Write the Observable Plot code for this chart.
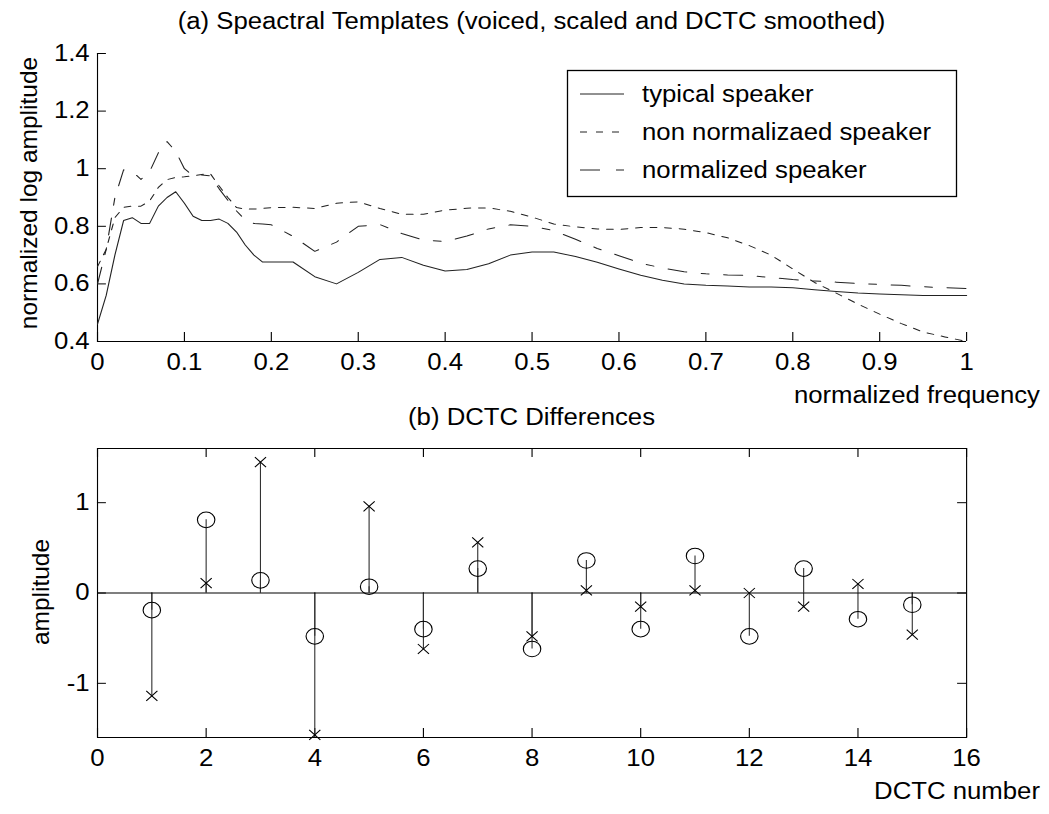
<!DOCTYPE html>
<html>
<head>
<meta charset="utf-8">
<script src="https://cdn.jsdelivr.net/npm/d3@7"></script>
<script src="https://cdn.jsdelivr.net/npm/@observablehq/plot@0.6"></script>
<style>
  html, body { margin: 0; padding: 0; background: #fff; }
  #wrap { position: relative; width: 1049px; height: 814px; background: #fff; overflow: hidden; }
  #wrap > svg { position: absolute; left: 0; }
  #overlay { position: absolute; left: 0; top: 0; pointer-events: none; }
</style>
</head>
<body>
<div id="wrap"></div>
<script>
// ---------- Data (panel a: spectral templates) ----------
const freq = [0, 0.01, 0.02, 0.03, 0.04, 0.05, 0.06, 0.07, 0.08, 0.09, 0.10, 0.11, 0.12, 0.13, 0.14, 0.15, 0.16, 0.17, 0.18, 0.19, 0.20,
  0.225, 0.25, 0.275, 0.30, 0.325, 0.35, 0.375, 0.40, 0.425, 0.45, 0.475, 0.50, 0.525, 0.55, 0.575, 0.60, 0.625, 0.65, 0.675, 0.70,
  0.725, 0.75, 0.775, 0.80, 0.825, 0.85, 0.875, 0.90, 0.925, 0.95, 0.975, 1.0];
const typicalSpeaker = [0.46, 0.56, 0.70, 0.82, 0.83, 0.81, 0.81, 0.87, 0.90, 0.92, 0.88, 0.835, 0.82, 0.82, 0.825, 0.81, 0.78, 0.735, 0.70, 0.676, 0.676,
  0.676, 0.625, 0.60, 0.64, 0.685, 0.692, 0.665, 0.645, 0.65, 0.67, 0.70, 0.711, 0.711, 0.695, 0.675, 0.652, 0.63, 0.613, 0.60, 0.595,
  0.593, 0.589, 0.589, 0.587, 0.58, 0.574, 0.568, 0.565, 0.562, 0.56, 0.56, 0.56];
const nonNormalizedSpeaker = [0.66, 0.72, 0.83, 0.866, 0.87, 0.87, 0.888, 0.935, 0.962, 0.97, 0.972, 0.975, 0.98, 0.982, 0.94, 0.90, 0.865, 0.86, 0.86, 0.862, 0.865,
  0.866, 0.862, 0.88, 0.885, 0.862, 0.842, 0.842, 0.856, 0.863, 0.864, 0.852, 0.832, 0.808, 0.798, 0.791, 0.789, 0.796, 0.796, 0.79, 0.778,
  0.76, 0.733, 0.70, 0.652, 0.605, 0.568, 0.53, 0.495, 0.462, 0.433, 0.416, 0.40];
const normalizedSpeaker = [0.60, 0.72, 0.90, 0.996, 0.99, 0.963, 0.99, 1.055, 1.094, 1.06, 1.0, 0.975, 0.978, 0.975, 0.93, 0.89, 0.853, 0.822, 0.81, 0.808, 0.805,
  0.765, 0.713, 0.745, 0.80, 0.806, 0.775, 0.752, 0.747, 0.766, 0.791, 0.805, 0.80, 0.785, 0.755, 0.723, 0.698, 0.672, 0.655, 0.642, 0.635,
  0.631, 0.629, 0.622, 0.615, 0.61, 0.606, 0.601, 0.598, 0.595, 0.59, 0.587, 0.584];
const seriesNames = ["typical speaker", "non normalizaed speaker", "normalized speaker"];
const xTicksA = [0, 0.1, 0.2, 0.3, 0.4, 0.5, 0.6, 0.7, 0.8, 0.9, 1];
const yTicksA = [0.4, 0.6, 0.8, 1, 1.2, 1.4];

// ---------- Data (panel b: DCTC differences) ----------
const dctcNumber = [1, 2, 3, 4, 5, 6, 7, 8, 9, 10, 11, 12, 13, 14, 15];
const dctcCircle = [-0.19, 0.81, 0.14, -0.48, 0.07, -0.40, 0.27, -0.62, 0.36, -0.40, 0.41, -0.48, 0.27, -0.29, -0.13];
const dctcCross = [-1.14, 0.11, 1.45, -1.57, 0.96, -0.62, 0.56, -0.48, 0.03, -0.15, 0.03, 0.00, -0.15, 0.10, -0.46];
const xTicksB = [0, 2, 4, 6, 8, 10, 12, 14, 16];
const yTicksB = [-1, 0, 1];

// ---------- Layout ----------
const FULLW = 1049;
const W = 937;                 // drawing width before horizontal stretch
const SX = FULLW / W;          // horizontal stretch of the original figure
const ML = 86.6, MR = 74.1;
const PW = W - ML - MR;
const font = "'Liberation Sans', Arial, Helvetica, sans-serif";
const fmt = d => String(d);
const ink = "#222";

function stretch(svg, top, h) {
  svg.setAttribute("width", FULLW);
  svg.setAttribute("height", h);
  svg.setAttribute("viewBox", `0 0 ${W} ${h}`);
  svg.setAttribute("preserveAspectRatio", "none");
  svg.style.width = FULLW + "px";
  svg.style.height = h + "px";
  svg.style.maxWidth = "none";
  svg.style.top = top + "px";
  return svg;
}

// ---------- Panel (a) ----------
const HA = 390, MTA = 53, MBA = 49, PHA = HA - MTA - MBA;
const panelA = Plot.plot({
  width: W, height: HA,
  marginLeft: ML, marginRight: MR, marginTop: MTA, marginBottom: MBA,
  style: { fontFamily: font, fontSize: "23px", color: "black", background: "white", overflow: "visible" },
  x: { domain: [0, 1], ticks: xTicksA, tickSize: 0, tickPadding: 12, tickFormat: fmt, label: null },
  y: { domain: [0.4, 1.4], ticks: yTicksA, tickSize: 0, tickPadding: 7, tickFormat: fmt, label: null },
  marks: [
    Plot.ruleX([0], { stroke: "black" }),
    Plot.ruleY([0.4], { stroke: "black" }),
    Plot.ruleX(xTicksA, { stroke: "black", insetTop: PHA - 9 }),
    Plot.ruleY(yTicksA, { stroke: "black", insetRight: PW - 8 }),
    Plot.line(freq, { x: freq, y: typicalSpeaker, stroke: ink, strokeWidth: 1 }),
    Plot.line(freq, { x: freq, y: nonNormalizedSpeaker, stroke: ink, strokeWidth: 1, strokeDasharray: "6,7" }),
    Plot.line(freq, { x: freq, y: normalizedSpeaker, stroke: ink, strokeWidth: 1, strokeDasharray: "17,13,7,13" })
  ]
});

// ---------- Panel (b) ----------
const HB = 424, MTB = 58, MBB = 77, PHB = HB - MTB - MBB;
const panelB = Plot.plot({
  width: W, height: HB,
  marginLeft: ML, marginRight: MR, marginTop: MTB, marginBottom: MBB,
  style: { fontFamily: font, fontSize: "23px", color: "black", background: "white", overflow: "visible" },
  x: { domain: [0, 16], ticks: xTicksB, tickSize: 0, tickPadding: 12, tickFormat: fmt, label: null },
  y: { domain: [-1.6, 1.6], ticks: yTicksB, tickSize: 0, tickPadding: 7, tickFormat: fmt, label: null },
  marks: [
    Plot.frame({ stroke: "black" }),
    Plot.ruleX(xTicksB, { stroke: "black", insetTop: PHB - 9 }),
    Plot.ruleX(xTicksB, { stroke: "black", insetBottom: PHB - 9 }),
    Plot.ruleY(yTicksB, { stroke: "black", insetRight: PW - 8 }),
    Plot.ruleY(yTicksB, { stroke: "black", insetLeft: PW - 8 }),
    Plot.ruleX(dctcNumber, { x: dctcNumber, y1: 0, y2: dctcCircle, stroke: "#333" }),
    Plot.ruleX(dctcNumber, { x: dctcNumber, y1: 0, y2: dctcCross, stroke: "#333" }),
    Plot.ruleY([0], { stroke: "black" }),
    Plot.dot(dctcNumber, { x: dctcNumber, y: dctcCircle, r: 7.8, stroke: "black", fill: "none", strokeWidth: 1 }),
    Plot.dot(dctcNumber, { x: dctcNumber, y: dctcCross, symbol: "times", r: 4.6, stroke: "black", strokeWidth: 1 })
  ]
});

const wrap = document.getElementById("wrap");
wrap.appendChild(stretch(panelA, 0, HA));
wrap.appendChild(stretch(panelB, HA, HB));

// ---------- Titles, labels, legend ----------
const NS = "http://www.w3.org/2000/svg";
const ov = document.createElementNS(NS, "svg");
ov.setAttribute("id", "overlay");
ov.setAttribute("width", FULLW);
ov.setAttribute("height", 814);
ov.setAttribute("font-family", font);
ov.setAttribute("font-size", "23");
function txt(s, x, y, anchor, stretchIt = true, extra = "") {
  const t = document.createElementNS(NS, "text");
  t.textContent = s;
  t.setAttribute("text-anchor", anchor);
  t.setAttribute("fill", "black");
  t.setAttribute("transform", `translate(${x},${y})` + (stretchIt ? ` scale(${SX},1)` : "") + extra);
  ov.appendChild(t);
  return t;
}
const plotCenter = (97 + 966) / 2;
txt("(a) Speactral Templates (voiced, scaled and DCTC smoothed)", plotCenter, 29, "middle");
txt("normalized frequency", 1040, 403, "end");
txt("(b) DCTC Differences", plotCenter, 425, "middle");
txt("DCTC number", 1040, 799, "end");
const yl1 = txt("normalized log amplitude", 37, 193, "middle", false, " rotate(-90)");
yl1.setAttribute("font-size", "24.5");
const yl2 = txt("amplitude", 49, 592, "middle", false, " rotate(-90)");
yl2.setAttribute("font-size", "24.5");

// legend
const box = document.createElementNS(NS, "rect");
box.setAttribute("x", 567.5); box.setAttribute("y", 70.5);
box.setAttribute("width", 389); box.setAttribute("height", 126);
box.setAttribute("fill", "white"); box.setAttribute("stroke", "black"); box.setAttribute("stroke-width", 1.3);
ov.appendChild(box);
const dashes = [null, "7,9", "20,16,8,16"];
const rowY = [94, 132, 170];
seriesNames.forEach((name, i) => {
  const l = document.createElementNS(NS, "line");
  l.setAttribute("x1", 580); l.setAttribute("x2", 624);
  l.setAttribute("y1", rowY[i]); l.setAttribute("y2", rowY[i]);
  l.setAttribute("stroke", ink); l.setAttribute("stroke-width", 1);
  if (dashes[i]) l.setAttribute("stroke-dasharray", dashes[i]);
  ov.appendChild(l);
  txt(name, 642, rowY[i] + 8, "start");
});
wrap.appendChild(ov);
</script>
</body>
</html>
